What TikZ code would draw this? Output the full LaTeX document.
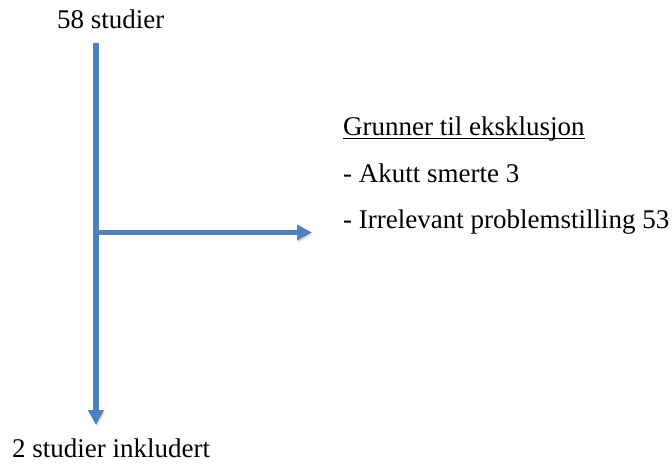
\documentclass[tikz,border=0pt]{standalone}
\usepackage{fontspec}
\setmainfont{Liberation Serif}
\usepackage{xcolor}
\usetikzlibrary{arrows.meta, positioning, calc}
\definecolor{flowblue}{HTML}{4F81BD}
\begin{document}
\begin{tikzpicture}[x=1pt, y=-1pt,
  lbl/.style={anchor=base west, inner sep=0pt, font=\fontsize{27}{32}\selectfont},
  flow/.style={-{Triangle[length=15pt, width=15pt]}, draw=flowblue, line width=5.5pt,
    preaction={draw=black!12, transform canvas={shift={(1pt,-2pt)}}}}]
  \useasboundingbox (0,0) rectangle (672,464);
  % Labels
  \node[lbl] (start) at (57,28) {58 studier};
  \node[lbl] (result) at (12,457) {2 studier inkludert};
  \node[lbl] (title) at (343,135) {Grunner til eksklusjon};
  \node[lbl] (acute) at (343,182) {- Akutt smerte 3};
  \node[lbl] (irrel) at (343,228) {- Irrelevant problemstilling 53};
  \draw[line width=1.6pt] ([yshift=-3.5pt]title.base west) -- ([yshift=-3.5pt]title.base east);
  % Arrow points
  \coordinate (top) at (96,43);
  \coordinate (bottom) at (96,425);
  \coordinate (split) at (98,232.5);
  \coordinate (out) at (312,232.5);
  % Arrows
  \draw[flow] (top) -- (bottom);
  \draw[flow] (split) -- (out);
\end{tikzpicture}
\end{document}
